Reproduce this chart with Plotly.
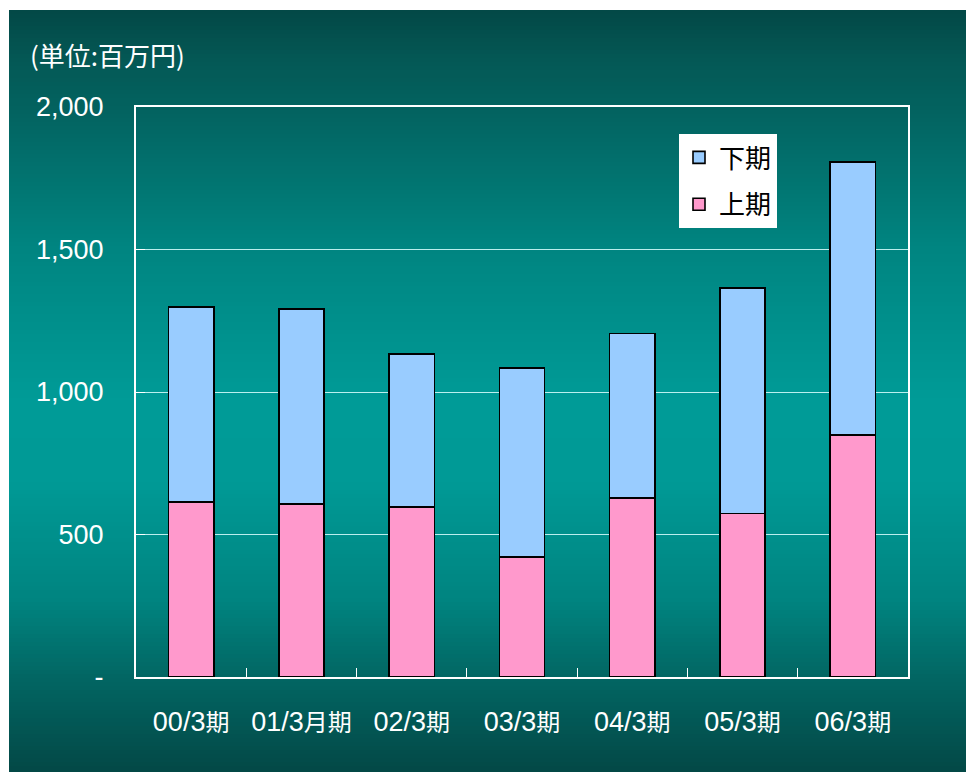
import plotly.graph_objects as go

# ---- data ----
categories = ["00/3期", "01/3月期", "02/3期", "03/3期", "04/3期", "05/3期", "06/3期"]
upper_half = [614, 607, 596, 421, 628, 574, 849]   # 上期
lower_half = [684, 684, 537, 663, 577, 790, 958]   # 下期
y_tickvals = [0, 500, 1000, 1500, 2000]
y_ticktext = ["-", "500", "1,000", "1,500", "2,000"]
unit_label = "(単位:百万円)"

OFF = 8  # page body margin
W, H = 974 - OFF, 772 - OFF
# plot area in screen pixels
SL, SR, ST, SB = 136, 908, 107, 677
L, T = SL - OFF, ST - OFF
R, B = W - (SR - OFF), H - (SB - OFF)
PW, PH = SR - SL, SB - ST

LAT = "Liberation Sans, Arial, Noto Sans CJK JP, sans-serif"
CJK = "Noto Sans CJK JP, sans-serif"


def px2x(px):
    return (px - SL) / PW


def px2y(py):
    return (SB - py) / PH


def mixed(s, size=24):
    out = ""
    for ch in s:
        if ord(ch) > 255:
            out += f"<span style='font-size:{size}px;font-family:Noto Sans CJK JP'>{ch}</span>"
        else:
            out += ch
    return out


# gradient background bands (screen y -> colour)
stops = [(10, (3, 72, 70)), (60, (4, 88, 85)), (107, (3, 98, 95)), (250, (0, 133, 129)),
         (400, (0, 155, 151)), (480, (0, 154, 150)), (600, (0, 132, 128)),
         (677, (2, 102, 99)), (772, (3, 72, 70))]


def color_at(py):
    for (y0, c0), (y1, c1) in zip(stops[:-1], stops[1:]):
        if y0 <= py <= y1:
            t = (py - y0) / (y1 - y0)
            return "rgb(%d,%d,%d)" % tuple(round(a + (b - a) * t) for a, b in zip(c0, c1))
    return "rgb(%d,%d,%d)" % stops[-1][1]


shapes = []
step = 4
py = 10
while py < 772:
    shapes.append(dict(type="rect", xref="paper", yref="paper", layer="below",
                       x0=px2x(9), x1=px2x(980), y0=px2y(min(py + step + 1, 780)), y1=px2y(py),
                       fillcolor=color_at(py + step / 2), line=dict(width=0)))
    py += step

fig = go.Figure()
fig.add_trace(go.Bar(x=categories, y=upper_half, name="上期", legendgroup="a", legendrank=2,
                     marker=dict(color="#FF99CC", line=dict(color="#000000", width=1.6))))
fig.add_trace(go.Bar(x=categories, y=lower_half, name="下期", legendgroup="b", legendrank=1,
                     marker=dict(color="#99CCFF", line=dict(color="#000000", width=1.6))))

fig.update_layout(
    width=W, height=H, margin=dict(l=L, r=R, t=T, b=B),
    barmode="stack", bargap=0.59,
    paper_bgcolor="white", plot_bgcolor="rgba(0,0,0,0)",
    shapes=shapes,
    showlegend=True,
    legend=dict(x=px2x(679), y=px2y(134), xanchor="left", yanchor="top",
                bgcolor="white", borderwidth=0, traceorder="grouped",
                tracegroupgap=10, font=dict(family=CJK, size=26, color="black")),
    annotations=[dict(text=unit_label, xref="paper", yref="paper", x=px2x(28), y=px2y(55),
                      xanchor="left", yanchor="middle", showarrow=False,
                      font=dict(family=CJK, size=26, color="white"))],
)
fig.update_xaxes(
    categoryorder="array", categoryarray=categories,
    tickmode="array", tickvals=categories, ticktext=[mixed(c) for c in categories],
    tickangle=0,
    tickson="boundaries", ticks="inside", ticklen=9, tickcolor="white", tickwidth=1,
    showline=True, linecolor="white", linewidth=2, mirror=True,
    tickfont=dict(family=LAT, size=27, color="white"), ticklabelstandoff=20,
    showgrid=False,
)
fig.update_yaxes(
    range=[0, 2000], tickmode="array", tickvals=y_tickvals, ticktext=y_ticktext,
    ticks="inside", ticklen=9, tickcolor="white", tickwidth=1,
    showline=True, linecolor="white", linewidth=2, mirror=True,
    showgrid=True, gridcolor="rgba(220,255,255,0.85)", gridwidth=1,
    tickfont=dict(family=LAT, size=27, color="white"), ticklabelstandoff=25,
    zeroline=False,
)
fig.write_html("out.html")
